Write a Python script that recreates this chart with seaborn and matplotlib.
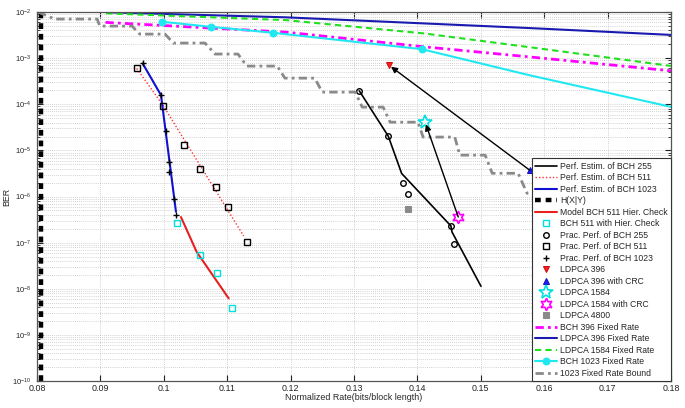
import numpy as np
import seaborn as sns
import matplotlib.pyplot as plt
from matplotlib.ticker import LogLocator, MultipleLocator, NullFormatter, FuncFormatter

# ---- data ----
# Perf. Estim. / Prac. Perf. of BCH 255
est255_x = [0.13084, 0.13541, 0.13752, 0.14530, 0.14546, 0.15003]
est255_y = [1.96e-4, 2.04e-5, 3.17e-6, 2.3e-7, 1.71e-7, 1.14e-8]
prac255_x = [0.13084, 0.13541, 0.13768, 0.13857, 0.14535, 0.14572]
prac255_y = [1.96e-4, 2.04e-5, 2.0e-6, 1.13e-6, 2.28e-7, 9.6e-8]

# Perf. Estim. / Prac. Perf. of BCH 511
est511_x = [0.09573, 0.09992, 0.11260]
est511_y = [6.0e-4, 9.3e-5, 1.4e-7]
prac511_x = [0.09573, 0.09992, 0.10319, 0.10576, 0.10819, 0.11013, 0.11317]
prac511_y = [6.0e-4, 9.3e-5, 1.32e-5, 3.9e-6, 1.62e-6, 6.0e-7, 1.04e-7]

# Perf. Estim. / Prac. Perf. of BCH 1023
est1023_x = [0.09667, 0.09956, 0.10192]
est1023_y = [7.7e-4, 1.58e-4, 4.7e-7]
prac1023_x = [0.09667, 0.09956, 0.10030, 0.10080, 0.10090, 0.10156, 0.10197]
prac1023_y = [7.7e-4, 1.58e-4, 2.6e-5, 5.7e-6, 3.33e-6, 8.8e-7, 3.96e-7]

# H(X|Y)
hxy_x = [0.08058, 0.08058]
hxy_y = [1e-10, 1e-2]

# hierarchical check
model_x = [0.10271, 0.10519, 0.11024]
model_y = [3.6e-7, 6.3e-8, 6.2e-9]
hier_x = [0.10213, 0.10571, 0.10844, 0.11080]
hier_y = [2.7e-7, 5.4e-8, 2.15e-8, 3.9e-9]

# LDPCA single points
ldpca396 = (0.13549, 7.1e-4)
ldpca396_crc = (0.15776, 3.7e-6)
ldpca1584 = (0.14120, 4.2e-5)
ldpca1584_crc = (0.14645, 3.6e-7)
ldpca4800 = (0.13846, 5.5e-7)

# fixed rate curves
bch396_x = [0.0908, 0.1192, 0.1410, 0.1576, 0.1800]
bch396_y = [5.98e-3, 3.68e-3, 1.77e-3, 1.07e-3, 5.33e-4]
ldpca396f_x = [0.0909, 0.1192, 0.1577, 0.1800]
ldpca396f_y = [9.9e-3, 7.7e-3, 4.5e-3, 3.2e-3]
ldpca1584f_x = [0.0909, 0.1192, 0.1410, 0.1576, 0.1800]
ldpca1584f_y = [9.4e-3, 6.7e-3, 3.45e-3, 1.74e-3, 6.8e-4]
bch1023f_x = [0.0997, 0.1074, 0.1172, 0.1407, 0.1576, 0.1800]
bch1023f_y = [6.17e-3, 4.8e-3, 3.56e-3, 1.57e-3, 4.3e-4, 8.8e-5]

bound_x = [0.0802, 0.0828, 0.0895, 0.0899, 0.0950, 0.0962, 0.1002, 0.1015,
           0.1065, 0.1081, 0.1117, 0.1131, 0.1179, 0.1191, 0.1238, 0.1250,
           0.1302, 0.1313, 0.1346, 0.1357, 0.1401, 0.1409, 0.1459, 0.1467,
           0.1507, 0.1518, 0.1559, 0.1573, 0.1590]
bound_y = [1.0e-2, 7.05e-3, 7.05e-3, 4.97e-3, 4.97e-3, 3.33e-3, 3.33e-3,
           2.13e-3, 2.13e-3, 1.23e-3, 1.23e-3, 6.75e-4, 6.75e-4, 3.7e-4,
           3.7e-4, 1.84e-4, 1.84e-4, 8.7e-5, 8.7e-5, 4.1e-5, 4.1e-5, 1.95e-5,
           1.95e-5, 7.9e-6, 7.9e-6, 3.2e-6, 3.2e-6, 1.18e-6, 1.18e-6]

# ---- style ----
sns.set_style("ticks")
plt.rcParams['font.family'] = ['Liberation Sans', 'DejaVu Sans']
plt.rcParams['mathtext.fontset'] = 'custom'
plt.rcParams['mathtext.rm'] = 'Liberation Sans'
plt.rcParams['mathtext.it'] = 'Liberation Sans'

fig = plt.figure(figsize=(6.85, 4.08), dpi=100)
ax = fig.add_axes([0.054, 0.066, 0.9255, 0.9044])
ax.set_yscale('log')

GRAY = '#8a8a8a'


def draw(x, y, label, **kw):
    sns.lineplot(x=np.asarray(x), y=np.asarray(y), ax=ax, label=label,
                 estimator=None, sort=False, **kw)


def point(p, label, **kw):
    draw([p[0]], [p[1]], label, linestyle='none', **kw)


draw(est255_x, est255_y, 'Perf. Estim. of BCH 255', color='k', lw=1.2)
draw(est511_x, est511_y, 'Perf. Estim. of BCH 511', color='#ff3030', lw=1.0,
     linestyle=(0, (1, 1.5)))
draw(est1023_x, est1023_y, 'Perf. Estim. of BCH 1023', color='#1010d0', lw=1.5)
draw(hxy_x, hxy_y, 'H(X|Y)', color='k', lw=3.2, linestyle=(0, (1.3, 1.1)))
draw(model_x, model_y, 'Model BCH 511 Hier. Check', color='#e82020', lw=1.5)
draw(hier_x, hier_y, 'BCH 511 with Hier. Check', color='c', linestyle='none',
     marker='s', ms=4.5, mfc='none', mec='#00e0e0', mew=1.0)
draw(prac255_x, prac255_y, 'Prac. Perf. of BCH 255', color='k', linestyle='none',
     marker='o', ms=4, mfc='none', mec='k', mew=1.0)
draw(prac511_x, prac511_y, 'Prac. Perf. of BCH 511', color='k', linestyle='none',
     marker='s', ms=4, mfc='none', mec='k', mew=1.0)
draw(prac1023_x, prac1023_y, 'Prac. Perf. of BCH 1023', color='k', linestyle='none',
     marker='+', ms=4, mec='k', mew=1.0)
point(ldpca396, 'LDPCA 396', color='r', marker='v', ms=5, mfc='#ff2020', mec='#d01010')
point(ldpca396_crc, 'LDPCA 396 with CRC', color='b', marker='^', ms=5, mfc='#2020ff', mec='#1010c0')
point(ldpca1584, 'LDPCA 1584', color='c', marker='*', ms=10, mfc='none', mec='#00e0e0', mew=1.2)
point(ldpca1584_crc, 'LDPCA 1584 with CRC', color='m', marker=(6, 1, 0), ms=9,
      mfc='none', mec='#ff00ff', mew=1.2)
point(ldpca4800, 'LDPCA 4800', color=GRAY, marker='s', ms=4.5, mfc=GRAY, mec=GRAY)
draw(bch396_x, bch396_y, 'BCH 396 Fixed Rate', color='#ff00ff', lw=2.0,
     linestyle=(0, (3, 1.5, 1, 1.5)))
draw(ldpca396f_x, ldpca396f_y, 'LDPCA 396 Fixed Rate', color='#1a1ab0', lw=1.5)
draw(ldpca1584f_x, ldpca1584f_y, 'LDPCA 1584 Fixed Rate', color='#20e020', lw=1.5,
     linestyle=(0, (3, 2)))
draw(bch1023f_x, bch1023f_y, 'BCH 1023 Fixed Rate', color='#20e8f0', lw=1.5,
     marker='o', ms=5, mfc='#20e8f0', mec='#20e8f0', markevery=[0, 1, 2, 3])
draw(bound_x, bound_y, '1023 Fixed Rate Bound', color=GRAY, lw=2.0,
     linestyle=(0, (3, 1.5, 1, 1.5)))

# arrows between the LDPCA points
arrow = dict(arrowstyle='-|>', color='k', lw=1.0, shrinkA=0, shrinkB=2,
             mutation_scale=9)
ax.annotate('', xy=ldpca396, xytext=ldpca396_crc, arrowprops=arrow)
ax.annotate('', xy=ldpca1584, xytext=ldpca1584_crc, arrowprops=arrow)

# ---- axes ----
ax.set_xlim(0.08, 0.18)
ax.set_ylim(1e-10, 1e-2)
ax.xaxis.set_major_locator(MultipleLocator(0.01))
ax.xaxis.set_major_formatter(FuncFormatter(lambda v, p: ('%.2f' % v).rstrip('0')))
ax.yaxis.set_major_locator(LogLocator(base=10, numticks=20))
ax.yaxis.set_minor_locator(LogLocator(base=10, subs=np.arange(2, 10), numticks=20))
ax.yaxis.set_minor_formatter(NullFormatter())
ax.tick_params(which='both', direction='in', top=True, right=True,
               colors='#222222')
ax.tick_params(axis='x', labelsize=6.4, pad=2.2)
ax.tick_params(axis='y', labelsize=5.4, pad=4.5)
ax.tick_params(which='major', length=4)
ax.tick_params(which='minor', length=2)
ax.grid(True, which='major', axis='x', linestyle=(0, (1, 1.5)), color='#c4c4c4', lw=0.6)
ax.grid(True, which='both', axis='y', linestyle=(0, (1, 1.5)), color='#c4c4c4', lw=0.6)
for s in ax.spines.values():
    s.set_color('#555555')
    s.set_linewidth(0.9)

ax.set_xlabel('Normalized Rate(bits/block length)', fontsize=6.4, labelpad=0)
ax.set_ylabel('BER', fontsize=6.4)
ax.yaxis.set_label_coords(-0.040, 0.5)

handles, labels = ax.get_legend_handles_labels()
leg = ax.legend(handles, labels, loc='lower right', fontsize=6.2, frameon=True,
                fancybox=False, edgecolor='#333333', framealpha=1,
                borderaxespad=0, labelspacing=0.29, handlelength=2.5,
                handletextpad=0.35, borderpad=0.4)
leg.get_frame().set_linewidth(0.8)

fig.savefig('out.png', dpi=100)
